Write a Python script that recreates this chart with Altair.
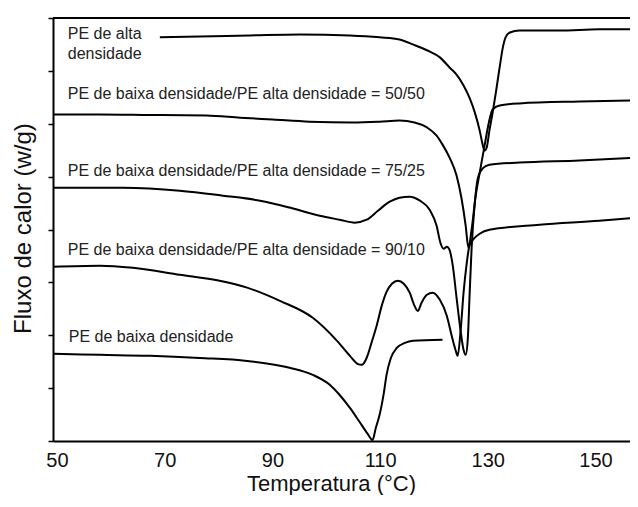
import altair as alt
import pandas as pd

# ---- data (temperature in °C, heat flow in arbitrary stacked units) ----
hd_t = [69.1, 76.5, 85.8, 95.1, 104.4, 109.9, 113.6, 116.1, 118.8, 121.1, 122.9, 124.2, 125.5, 126.6,
        127.6, 128.5, 129.0, 129.4, 129.8, 130.3, 130.9, 131.5, 132.2, 132.8, 133.3, 134.1, 135.9,
        143.3, 150.7, 157.8]
hd_f = [15.27, 15.30, 15.34, 15.38, 15.34, 15.27, 15.19, 15.00, 14.77, 14.51, 14.13, 13.86, 13.45, 12.99,
        12.42, 11.74, 11.25, 10.98, 11.10, 11.74, 12.42, 13.18, 14.13, 14.89, 15.27, 15.45, 15.53,
        15.53, 15.57, 15.57]

b50_t = [49.3, 58.0, 67.3, 77.8, 84.0, 90.1, 96.9, 104.9, 109.9, 113.6, 116.4, 118.7, 120.5, 121.6,
         122.9, 124.2, 125.1, 125.9, 126.4, 127.0, 127.7, 128.5, 129.4, 130.2, 130.9, 132.2, 135.9,
         147.0, 157.8]
b50_f = [12.35, 12.35, 12.33, 12.31, 12.23, 12.16, 12.08, 12.05, 12.08, 12.12, 12.05, 11.86, 11.55, 11.21,
         10.72, 10.04, 9.20, 8.14, 7.31, 8.00, 9.20, 10.15, 11.17, 12.05, 12.54, 12.69, 12.77,
         12.84, 12.88]

b75_t = [49.3, 62.3, 72.8, 80.8, 87.7, 93.2, 98.8, 102.5, 105.3, 107.5, 109.6, 111.8, 113.6, 115.5,
         117.4, 119.2, 120.5, 121.2, 121.8, 122.4, 122.9, 123.5, 124.2, 125.0, 125.5, 125.9, 126.3,
         126.6, 127.0, 127.6, 128.1, 129.0, 130.3, 135.9, 147.0, 157.8]
b75_f = [9.58, 9.58, 9.47, 9.28, 9.09, 8.83, 8.52, 8.37, 8.26, 8.37, 8.71, 9.05, 9.20, 9.24,
         9.09, 8.75, 8.14, 7.50, 7.27, 7.35, 7.23, 6.63, 5.42, 4.09, 3.45, 3.26, 3.90,
         5.42, 7.31, 9.02, 9.89, 10.30, 10.45, 10.53, 10.61, 10.72]

b90_t = [49.3, 58.0, 64.1, 72.8, 80.2, 85.3, 91.4, 97.5, 102.0, 104.4, 105.8, 106.6, 107.5, 108.4,
         109.4, 110.3, 111.2, 112.2, 113.3, 114.4, 115.5, 116.4, 117.0, 117.7, 118.7, 119.8, 121.1,
         122.4, 123.3, 124.0, 124.4, 125.0, 125.5, 126.1, 126.6, 127.6, 128.5, 130.3, 139.6, 150.7, 157.8]
b90_f = [6.59, 6.63, 6.55, 6.29, 6.06, 5.80, 5.30, 4.66, 3.79, 3.22, 2.92, 2.88, 3.14, 3.71,
         4.39, 5.11, 5.64, 5.95, 6.06, 5.95, 5.61, 5.11, 4.92, 5.23, 5.53, 5.61, 5.34,
         4.73, 3.98, 3.45, 3.22, 4.28, 5.61, 6.74, 7.39, 7.69, 7.84, 7.99, 8.18, 8.33, 8.45]

ld_t = [49.3, 58.0, 67.3, 76.5, 85.3, 93.2, 97.5, 100.7, 102.5, 104.4, 106.2, 107.7, 108.6, 109.2,
        109.9, 110.7, 111.2, 112.0, 113.1, 114.6, 116.1, 121.6]
ld_f = [3.30, 3.26, 3.22, 3.14, 3.03, 2.77, 2.50, 2.12, 1.74, 1.25, 0.72, 0.27, 0.04, 0.49,
        0.98, 1.82, 2.50, 3.14, 3.52, 3.71, 3.79, 3.83]

series_names = ["alta", "50/50", "75/25", "90/10", "baixa"]
series_t = [hd_t, b50_t, b75_t, b90_t, ld_t]
series_f = [hd_f, b50_f, b75_f, b90_f, ld_f]

label_text = [
    "PE de alta",
    "densidade",
    "PE de baixa densidade/PE alta densidade = 50/50",
    "PE de baixa densidade/PE alta densidade = 75/25",
    "PE de baixa densidade/PE alta densidade = 90/10",
    "PE de baixa densidade",
]
label_t = [52.0, 52.0, 52.0, 52.0, 52.0, 52.2]
label_f = [15.38, 14.62, 13.11, 10.23, 7.23, 3.94]

x_ticks = [50, 70, 90, 110, 130, 150]
y_ticks = list(range(0, 17))
x_domain = [49.26, 156.41]
y_domain = [0, 16]

rows = []
for name, ts, fs in zip(series_names, series_t, series_f):
    for i, (t, f) in enumerate(zip(ts, fs)):
        rows.append({"serie": name, "t": t, "f": f, "ord": i})
df = pd.DataFrame(rows)
labels_df = pd.DataFrame({"txt": label_text, "t": label_t, "f": label_f})
frame_df = pd.DataFrame({"f": [y_domain[1]]})

FONT = "Liberation Sans"

x_enc = alt.X(
    "t:Q",
    scale=alt.Scale(domain=x_domain, nice=False, zero=False),
    axis=alt.Axis(
        values=x_ticks, title="Temperatura (°C)", grid=False, ticks=False, tickSize=0,
        labelFontSize=20, labelFont=FONT, labelColor="#111", labelPadding=9,
        titleFontSize=22, titleFont=FONT, titleFontWeight="normal", titleColor="#111",
        titleX=278, titleY=49, titleAlign="center", titleBaseline="alphabetic",
        domainColor="black", domainWidth=2,
    ),
)
y_enc = alt.Y(
    "f:Q",
    scale=alt.Scale(domain=y_domain, nice=False, zero=False),
    axis=alt.Axis(
        values=y_ticks, labels=False, grid=False, ticks=True, tickSize=5, tickWidth=1.5,
        tickColor="black", title="Fluxo de calor (w/g)",
        titleFontSize=24, titleFont=FONT, titleFontWeight="normal", titleColor="#111",
        titleX=-30, titleY=210, titleAlign="center", titleBaseline="middle", titleAngle=270,
        domainColor="black", domainWidth=2,
    ),
)

lines = alt.Chart(df).mark_line(
    color="black", strokeWidth=2, interpolate="monotone", clip=True
).encode(x=x_enc, y=y_enc, detail="serie:N", order="ord:Q")

frame = alt.Chart(frame_df).mark_rule(color="black", strokeWidth=2).encode(y="f:Q")

texts = alt.Chart(labels_df).mark_text(
    align="left", baseline="middle", fontSize=16, font=FONT, color="#222"
).encode(x="t:Q", y="f:Q", text="txt:N")

chart = (
    alt.layer(lines, frame, texts)
    .properties(
        width=577, height=423,
        autosize=alt.AutoSizeParams(type="none"),
        padding={"left": 45, "top": 10, "right": 0, "bottom": 54},
    )
    .configure_view(stroke=None)
    .configure(background="white")
)

chart.save("out.html", embed_options={"renderer": "svg", "actions": False})
